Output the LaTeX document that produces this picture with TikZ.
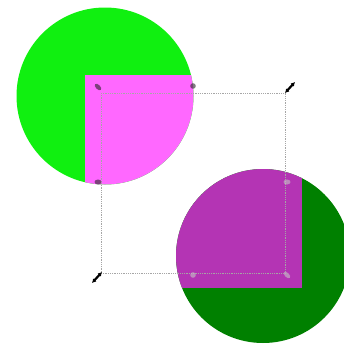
\documentclass[tikz,border=0pt]{standalone}
\usetikzlibrary{arrows.meta}
\definecolor{lightdisc}{RGB}{16,240,16}
\definecolor{darkdisc}{RGB}{0,128,0}
\definecolor{pinksq}{RGB}{255,104,255}
\definecolor{purplesq}{RGB}{180,52,180}

\begin{document}
\begin{tikzpicture}[
          x=1pt, y=-1pt,
          guide/.style={gray!70, densely dotted, line width=0.8pt},
          darkgrip/.style={fill=gray!30!black, opacity=0.6},
          lightgrip/.style={fill=gray!45, opacity=0.6},
          resize/.style={{Latex[length=4pt,width=4.5pt]}-{Latex[length=4pt,width=4.5pt]},
                         line width=2.2pt, black}
        ]
          \useasboundingbox (0,0) rectangle (344,346);
          % light disc with the pink square on it
          \fill[lightdisc] (105,96) circle (88.5);
          \begin{scope}
            \clip (105,96) circle (88.5);
            \fill[pinksq] (85,75) rectangle (200,190);
          \end{scope}
          % dark disc with the purple square on it
          \fill[darkdisc] (263,256) circle (87);
          \begin{scope}
            \clip (263,256) circle (87);
            \fill[purplesq] (170,160) rectangle (302,288);
          \end{scope}
          % selection frame
          \coordinate (tl) at (98,87);
          \coordinate (tm) at (193,86);
          \coordinate (ml) at (98,182);
          \coordinate (mr) at (287,182);
          \coordinate (bm) at (193,275);
          \coordinate (br) at (287,275);
          \draw[guide] (101,93) rectangle (285,273);
          \fill[darkgrip, rotate around={-45:(tl)}] (tl) ellipse (4pt and 2.2pt);
          \fill[darkgrip] (tm) circle (2.8pt);
          \fill[darkgrip] (ml) ellipse (3.5pt and 2.5pt);
          \fill[lightgrip] (mr) ellipse (3.5pt and 2.5pt);
          \fill[lightgrip] (bm) circle (2.8pt);
          \fill[lightgrip, rotate around={-45:(br)}] (br) ellipse (4pt and 2.2pt);
          % resize grips
          \coordinate (ne1) at (285,93);
          \coordinate (ne2) at (295,82);
          \coordinate (sw1) at (92,283);
          \coordinate (sw2) at (102,272);
          \draw[resize] (ne1) -- (ne2);
          \draw[resize] (sw1) -- (sw2);
        \end{tikzpicture}
\end{document}
